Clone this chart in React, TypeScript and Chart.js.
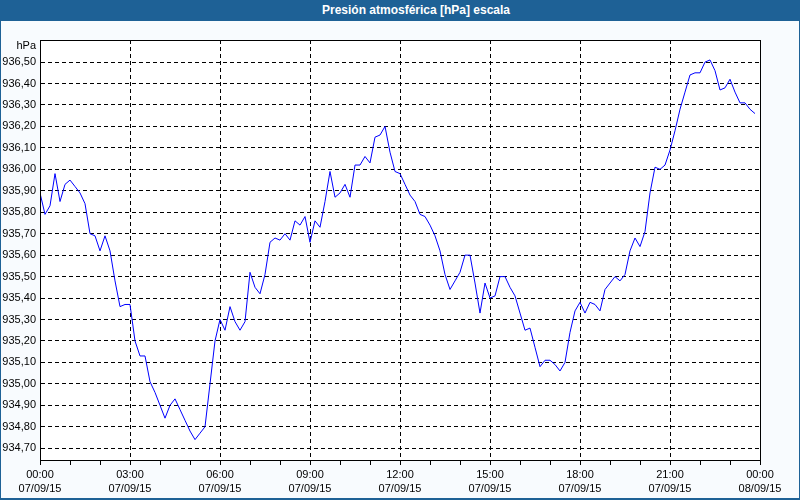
import React, { useEffect, useRef } from "react";
import { Chart, registerables } from "chart.js";

Chart.register(...registerables);

const TITLE = "Presión atmosférica [hPa] escala";
const UNIT_LABEL = "hPa";

// 10-minute readings from 00:00 07/09/15
const STEP_MINUTES = 10;
const pressure: number[] = [
  935.89, 935.79, 935.83, 935.98, 935.85, 935.93, 935.95, 935.92, 935.89, 935.84,
  935.70, 935.69, 935.62, 935.69, 935.62, 935.48, 935.36, 935.37, 935.37, 935.20,
  935.13, 935.13, 935.01, 934.96, 934.90, 934.84, 934.90, 934.93, 934.88, 934.83,
  934.78, 934.74, 934.77, 934.80, 935.00, 935.20, 935.30, 935.25, 935.36, 935.29,
  935.25, 935.29, 935.52, 935.45, 935.42, 935.51, 935.66, 935.68, 935.67, 935.70,
  935.67, 935.76, 935.74, 935.78, 935.66, 935.76, 935.73, 935.85, 935.99, 935.87,
  935.89, 935.93, 935.87, 936.02, 936.02, 936.06, 936.03, 936.15, 936.16, 936.20,
  936.08, 935.99, 935.98, 935.93, 935.88, 935.85, 935.79, 935.78, 935.74, 935.69,
  935.62, 935.51, 935.44, 935.48, 935.52, 935.60, 935.60, 935.47, 935.33, 935.47,
  935.40, 935.41, 935.50, 935.50, 935.45, 935.41, 935.33, 935.25, 935.26, 935.17,
  935.08, 935.11, 935.11, 935.09, 935.06, 935.10, 935.24, 935.34, 935.38, 935.33,
  935.38, 935.37, 935.34, 935.44, 935.47, 935.50, 935.48, 935.51, 935.62, 935.68,
  935.64, 935.71, 935.89, 936.01, 936.00, 936.02, 936.09, 936.18, 936.28, 936.36,
  936.44, 936.45, 936.45, 936.50, 936.51, 936.46, 936.37, 936.38, 936.42, 936.36,
  936.31, 936.31, 936.28, 936.26,
];

const yTickValues: number[] = [
  934.7, 934.8, 934.9, 935.0, 935.1, 935.2, 935.3, 935.4, 935.5, 935.6,
  935.7, 935.8, 935.9, 936.0, 936.1, 936.2, 936.3, 936.4, 936.5,
];
const Y_MIN = 934.645;
const Y_MAX = 936.603;

const xMajorMinutes: number[] = [0, 180, 360, 540, 720, 900, 1080, 1260, 1440];
const xTimeLabels: string[] = ["00:00", "03:00", "06:00", "09:00", "12:00", "15:00", "18:00", "21:00", "00:00"];
const xDateLabels: string[] = ["07/09/15", "07/09/15", "07/09/15", "07/09/15", "07/09/15", "07/09/15", "07/09/15", "07/09/15", "08/09/15"];
const X_MAX = 1440;
const MINOR_STEP = 60;

const FONT = '"Liberation Sans", Arial, sans-serif';
const BLUE_BAR = "#1e6196";
const BG = "#f8fbfe";

export default function App() {
  const ref = useRef<HTMLCanvasElement | null>(null);

  useEffect(() => {
    if (!ref.current) return;
    const points = pressure.map((v, i) => ({ x: i * STEP_MINUTES, y: v }));

    const framePlugin = {
      id: "frame",
      beforeDraw(chart: any) {
        const { ctx, chartArea: a } = chart;
        ctx.save();
        ctx.fillStyle = "#ffffff";
        ctx.fillRect(a.left, a.top, a.right - a.left, a.bottom - a.top);
        ctx.restore();
      },
      afterDraw(chart: any) {
        const { ctx, chartArea: a } = chart;
        ctx.save();
        ctx.strokeStyle = "#000";
        ctx.lineWidth = 1;
        ctx.strokeRect(Math.round(a.left) + 0.5, Math.round(a.top) + 0.5, Math.round(a.right - a.left), Math.round(a.bottom - a.top));
        ctx.fillStyle = "#000";
        ctx.font = "11px " + FONT;
        ctx.textAlign = "right";
        ctx.textBaseline = "middle";
        ctx.fillText(UNIT_LABEL, a.left - 4, a.top + 6);
        ctx.restore();
      },
    };

    const chart = new Chart(ref.current, {
      type: "line",
      data: {
        datasets: [
          {
            data: points,
            borderColor: "#0000ff",
            borderWidth: 1,
            pointRadius: 0,
            tension: 0,
            fill: false,
          },
        ],
      },
      options: {
        animation: false,
        responsive: false,
        devicePixelRatio: 1,
        parsing: true,
        layout: { padding: { left: 0, right: 40, top: 19, bottom: 2 } },
        plugins: { legend: { display: false }, title: { display: false }, tooltip: { enabled: false } },
        scales: {
          x: {
            type: "linear",
            min: 0,
            max: X_MAX,
            afterBuildTicks: (scale: any) => {
              const t = [];
              for (let m = 0; m <= X_MAX; m += MINOR_STEP) t.push({ value: m });
              scale.ticks = t;
            },
            afterFit: (scale: any) => {
              scale.height = 38;
            },
            ticks: {
              autoSkip: false,
              maxRotation: 0,
              minRotation: 0,
              padding: 3,
              color: "#000",
              font: { family: FONT, size: 11, lineHeight: 1.25 },
              callback: (value: any) => {
                const i = xMajorMinutes.indexOf(Number(value));
                return i >= 0 ? [xTimeLabels[i], xDateLabels[i]] : "";
              },
            },
            grid: {
              color: (ctx: any) => {
                const v = ctx.tick ? ctx.tick.value : -1;
                return v > 0 && v < X_MAX && v % 180 === 0 ? "#000" : "rgba(0,0,0,0)";
              },
              tickColor: "#000",
              tickLength: 5,
              lineWidth: 1,
            },
            border: { display: true, color: "#000", width: 1, dash: [4, 3] },
          },
          y: {
            type: "linear",
            min: Y_MIN,
            max: Y_MAX,
            afterBuildTicks: (scale: any) => {
              scale.ticks = yTickValues.map((v) => ({ value: v }));
            },
            afterFit: (scale: any) => {
              scale.width = 40;
            },
            ticks: {
              padding: 4,
              color: "#000",
              font: { family: FONT, size: 11 },
              callback: (value: any) => Number(value).toFixed(2).replace(".", ","),
            },
            grid: { color: "#000", drawTicks: false, lineWidth: 1 },
            border: { display: true, color: "#000", width: 1, dash: [4, 3] },
          },
        },
      },
      plugins: [framePlugin],
    });
    return () => chart.destroy();
  }, []);

  return (
    <div style={{ position: "absolute", left: 0, top: 0, width: 800, height: 500, background: BG, overflow: "hidden" }}>
      <div
        style={{
          position: "absolute",
          left: 0,
          top: 0,
          width: 800,
          height: 21,
          background: BLUE_BAR,
          color: "#fff",
          fontFamily: FONT,
          fontWeight: "bold",
          fontSize: 12,
          lineHeight: "20px",
          textAlign: "center",
          paddingLeft: 32,
          boxSizing: "border-box",
        }}
      >
        {TITLE}
      </div>
      <canvas ref={ref} width={800} height={479} style={{ position: "absolute", left: 0, top: 21, width: 800, height: 479 }} />
      <div style={{ position: "absolute", left: 0, top: 21, width: 1, height: 479, background: BLUE_BAR }} />
      <div style={{ position: "absolute", right: 0, top: 21, width: 1, height: 479, background: BLUE_BAR }} />
      <div style={{ position: "absolute", left: 0, bottom: 0, width: 800, height: 2, background: BLUE_BAR }} />
    </div>
  );
}
